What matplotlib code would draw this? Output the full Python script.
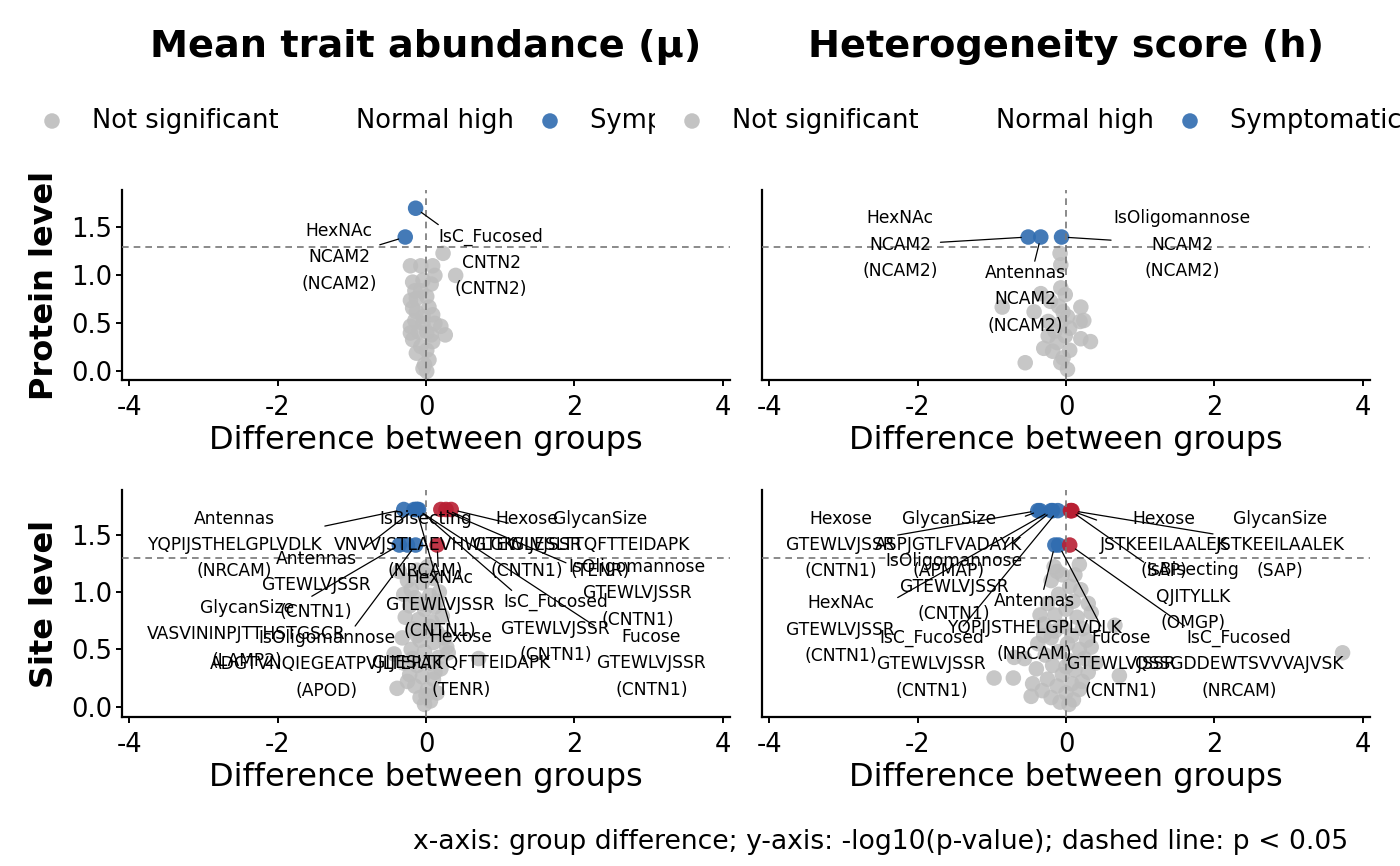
import math
import matplotlib.pyplot as plt

plt.rcParams['font.family'] = ['DejaVu Sans']

GREY = '#bdbdbd'
BLUE = '#2f6cb0'
RED = '#b81f33'

titles = ["Mean trait abundance (μ)", "Heterogeneity score (h)"]
row_names = ["Protein level", "Site level"]
legend_labels = ["Not significant", "Normal high", "Symptomatic high"]
legend_colors = [GREY, 'none', BLUE]
footer = "x-axis: group difference; y-axis: -log10(p-value); dashed line: p < 0.05"
x_ticks = [-4, -2, 0, 2, 4]
y_ticks = [0.0, 0.5, 1.0, 1.5]
p_cut = 0.05
group_colors = {"Not significant": GREY, "Normal high": RED, "Symptomatic high": BLUE}

# ---- protein level, mean trait abundance ----
pm_ns_x = [0.23, 0.40, -0.21, -0.07, 0.09, 0.12, -0.18, -0.04, 0.07, -0.15, -0.13, -0.21,
           -0.18, 0.04, 0.09, -0.04, -0.15, -0.21, 0.20, 0.26, -0.18, 0.07, -0.10, -0.07,
           -0.13, 0.01, 0.04, -0.02, 0.01, -0.04, 0.09, -0.04, 0.12, -0.13, 0.01, -0.07,
           0.01, -0.21]
pm_ns_y = [1.23, 1.00, 1.10, 1.10, 1.10, 1.00, 0.93, 0.95, 0.91, 0.84, 0.76, 0.74,
           0.66, 0.67, 0.59, 0.57, 0.53, 0.47, 0.47, 0.38, 0.33, 0.38, 0.41, 0.26,
           0.19, 0.22, 0.12, 0.07, 0.00, 0.03, 0.31, 0.50, 0.50, 0.62, 0.78, 0.84,
           0.41, 0.40]
pm_sig_x = [-0.28, -0.14]
pm_sig_y = [1.40, 1.70]
pm_group = ["Symptomatic high", "Symptomatic high"]
pm_trait = ["HexNAc", "IsC_Fucosed"]
pm_peptide = ["NCAM2", "CNTN2"]
pm_protein = ["NCAM2", "CNTN2"]
pm_lab_x = [-1.17, 0.88]
pm_lab_y = [1.19, 1.13]

# ---- protein level, heterogeneity ----
ph_ns_x = [-0.08, -0.07, -0.07, -0.01, -0.34, -0.86, -0.21, -0.43, 0.20, 0.24, 0.19, -0.24,
           -0.04, 0.05, -0.24, -0.15, 0.20, 0.33, -0.30, -0.18, 0.05, -0.55, -0.07, 0.02,
           -0.04, -0.12, -0.01, -0.07, 0.02, -0.10]
ph_ns_y = [1.23, 1.11, 0.87, 0.80, 0.81, 0.67, 0.73, 0.62, 0.67, 0.53, 0.52, 0.52,
           0.62, 0.45, 0.37, 0.42, 0.34, 0.31, 0.24, 0.21, 0.22, 0.09, 0.09, 0.02,
           0.14, 0.30, 0.37, 0.50, 0.57, 0.68]
ph_sig_x = [-0.51, -0.34, -0.06]
ph_sig_y = [1.40, 1.40, 1.40]
ph_group = ["Symptomatic high", "Symptomatic high", "Symptomatic high"]
ph_trait = ["HexNAc", "Antennas", "IsOligomannose"]
ph_peptide = ["NCAM2", "NCAM2", "NCAM2"]
ph_protein = ["NCAM2", "NCAM2", "NCAM2"]
ph_lab_x = [-2.24, -0.55, 1.57]
ph_lab_y = [1.32, 0.75, 1.32]

# ---- site level, mean trait abundance ----
sm_ns_x = [-0.36, -0.12, 0.02, -0.25, -0.05, 0.10, -0.30, -0.15, 0.05, 0.18, -0.22, -0.02,
           0.12, -0.28, -0.10, 0.08, 0.22, -0.18, 0.00, 0.15, -0.32, -0.08, 0.10, 0.25,
           -0.43, -0.20, -0.02, 0.17, 0.30, 0.71, -0.30, -0.12, 0.05, 0.20, -0.39, -0.22,
           -0.05, 0.10, -0.15, 0.02, 0.15, -0.08, 0.06, -0.02, 0.00, -0.25, 0.12, -0.18,
           0.28, -0.12, 0.05, -0.05, 0.15, -0.20, 0.00]
sm_ns_y = [1.18, 1.19, 1.22, 1.10, 1.08, 1.12, 0.98, 0.95, 0.97, 1.00, 0.88, 0.85,
           0.87, 0.78, 0.76, 0.74, 0.79, 0.68, 0.66, 0.65, 0.60, 0.58, 0.56, 0.60,
           0.46, 0.50, 0.48, 0.43, 0.47, 0.42, 0.38, 0.36, 0.38, 0.33, 0.16, 0.28,
           0.26, 0.24, 0.18, 0.15, 0.12, 0.08, 0.05, 0.02, 0.10, 0.22, 0.30, 0.42,
           0.52, 0.62, 0.70, 0.90, 0.92, 1.02, 1.15]
sm_sig_x = [-0.30, -0.25, -0.16, 0.27, 0.34, 0.20, -0.10, -0.12, -0.13, 0.15, -0.36, -0.14]
sm_sig_y = [1.72, 1.41, 1.72, 1.72, 1.72, 1.72, 1.72, 1.72, 1.72, 1.41, 1.41, 1.41]
sm_group = ["Symptomatic high", "Symptomatic high", "Symptomatic high", "Normal high",
            "Normal high", "Normal high", "Symptomatic high", "Symptomatic high",
            "Symptomatic high", "Normal high", "Symptomatic high", "Symptomatic high"]
sm_trait = ["Antennas", "IsBisecting", "Antennas", "Hexose", "GlycanSize", "IsOligomannose",
            "IsC_Fucosed", "Fucose", "Hexose", "HexNAc", "GlycanSize", "IsOligomannose"]
sm_peptide = ["YQPIJSTHELGPLVDLK", "VNVVJSTLAEVHWLGK", "GTEWLVJSSR", "GTEWLVJSSR",
              "GIJESLTTQFTTEIDAPK", "GTEWLVJSSR", "GTEWLVJSSR", "GTEWLVJSSR",
              "GIJESLTTQFTTEIDAPK", "GTEWLVJSSR", "VASVININPJTTHSTGSCR",
              "ADGTVNQIEGEATPVJLTEPAK"]
sm_protein = ["NRCAM", "NRCAM", "CNTN1", "CNTN1", "TENR", "CNTN1", "CNTN1", "CNTN1",
              "TENR", "CNTN1", "LAMP2", "APOD"]
sm_lab_x = [-2.58, -0.01, -1.48, 1.36, 2.35, 2.85, 1.75, 3.04, 0.47, 0.19, -2.42, -1.34]
sm_lab_y = [1.41, 1.41, 1.06, 1.41, 1.41, 0.99, 0.68, 0.38, 0.38, 0.89, 0.63, 0.37]

# ---- site level, heterogeneity ----
sh_ns_x = [-0.16, -0.20, 0.18, 0.20, 0.34, 0.66, 0.34, 0.72, 3.73, -0.97, -0.71, -0.47,
           -0.70, -0.56, -0.05, 0.05, -0.10, 0.10, -0.25, 0.00, -0.15, 0.15, -0.30, -0.05,
           0.22, 0.08, -0.20, -0.38, 0.02, 0.18, -0.10, -0.28, 0.25, 0.05, -0.18, -0.40,
           0.12, -0.05, 0.30, -0.25, 0.08, -0.12, 0.18, -0.32, 0.00, -0.20, 0.10, -0.08,
           0.04, -0.30, 0.28, -0.15, 0.12, -0.12, 0.00, -0.45, 0.40, 0.22, -0.35, 0.30]
sh_ns_y = [1.22, 1.10, 1.24, 1.02, 0.82, 0.71, 0.52, 0.27, 0.47, 0.25, 0.25, 0.09,
           0.43, 0.42, 1.15, 1.05, 0.98, 0.92, 0.90, 0.85, 0.80, 0.78, 0.72, 0.70,
           0.68, 0.62, 0.60, 0.55, 0.55, 0.50, 0.48, 0.45, 0.42, 0.40, 0.36, 0.33,
           0.32, 0.28, 0.30, 0.24, 0.20, 0.18, 0.15, 0.14, 0.12, 0.08, 0.06, 0.04,
           0.02, 0.62, 0.58, 0.66, 1.15, 1.18, 0.35, 0.20, 0.38, 0.22, 0.80, 0.90]
sh_sig_x = [-0.38, -0.35, -0.18, -0.20, -0.11, -0.15, 0.07, 0.08, 0.06, -0.10, 0.05]
sh_sig_y = [1.71, 1.71, 1.71, 1.71, 1.71, 1.41, 1.71, 1.71, 1.71, 1.41, 1.41]
sh_group = ["Symptomatic high", "Symptomatic high", "Symptomatic high", "Symptomatic high",
            "Symptomatic high", "Symptomatic high", "Normal high", "Normal high",
            "Normal high", "Symptomatic high", "Normal high"]
sh_trait = ["Hexose", "GlycanSize", "IsOligomannose", "HexNAc", "IsC_Fucosed", "Antennas",
            "Hexose", "GlycanSize", "IsBisecting", "Fucose", "IsC_Fucosed"]
sh_peptide = ["GTEWLVJSSR", "ASPJGTLFVADAYK", "GTEWLVJSSR", "GTEWLVJSSR", "GTEWLVJSSR",
              "YQPIJSTHELGPLVDLK", "JSTKEEILAALEK", "JSTKEEILAALEK", "QJITYLLK",
              "GTEWLVJSSR", "QSSGDDEWTSVVVAJVSK"]
sh_protein = ["CNTN1", "APMAP", "CNTN1", "CNTN1", "CNTN1", "NRCAM", "SAP", "SAP", "OMGP",
              "CNTN1", "NRCAM"]
sh_lab_x = [-3.04, -1.58, -1.51, -3.04, -1.81, -0.43, 1.32, 2.89, 1.71, 0.74, 2.33]
sh_lab_y = [1.41, 1.41, 1.04, 0.67, 0.37, 0.69, 1.41, 1.41, 0.96, 0.37, 0.37]


def draw_panel(ax, ns_x, ns_y, sig_x, sig_y, group, trait, peptide, protein, lab_x, lab_y):
    ax.scatter(ns_x, ns_y, s=125, color=GREY, alpha=0.85, edgecolors='none', zorder=2)
    ax.scatter(sig_x, sig_y, s=125, color=[group_colors[g] for g in group], alpha=0.9,
               edgecolors='none', zorder=3)
    ax.axhline(-math.log10(p_cut), color='#777777', lw=1.2, ls=(0, (4, 3)), zorder=4)
    ax.axvline(0, color='#777777', lw=1.2, ls=(0, (4, 3)), zorder=4)
    for i in range(len(trait)):
        txt = f"{trait[i]}\n{peptide[i]}\n({protein[i]})"
        # no segment when the label already sits on its point
        near = abs(lab_x[i] - sig_x[i]) < 0.6 and abs(lab_y[i] - sig_y[i]) < 0.15
        arrow = None if near else dict(arrowstyle='-', color='black', lw=0.9,
                                       shrinkA=0, shrinkB=5)
        ax.annotate(txt, xy=(sig_x[i], sig_y[i]), xytext=(lab_x[i], lab_y[i]),
                    ha='center', va='center', fontsize=12.3, linespacing=1.6,
                    arrowprops=arrow, zorder=5)
    ax.set_xlim(-4.1, 4.1)
    ax.set_ylim(-0.09, 1.89)
    ax.set_xticks(x_ticks)
    ax.set_xticklabels([str(t) for t in x_ticks])
    ax.set_yticks(y_ticks)
    ax.set_yticklabels([f"{t:.1f}" for t in y_ticks])
    for side in ['top', 'right']:
        ax.spines[side].set_visible(False)
    for side in ['left', 'bottom']:
        ax.spines[side].set_linewidth(1.6)
    ax.tick_params(direction='out', length=4, width=1.4, labelsize=18.5, pad=3)
    ax.tick_params(axis='x', pad=7)
    ax.set_xlabel("Difference between groups", fontsize=23, labelpad=3)


fig = plt.figure(figsize=(14, 8.66), dpi=100)
W, H = 1400, 866


def box(x0, y0, x1, y1):
    return [x0 / W, 1 - y1 / H, (x1 - x0) / W, (y1 - y0) / H]


ax_pm = fig.add_axes(box(122, 190, 730, 380))
ax_ph = fig.add_axes(box(762, 190, 1370, 380))
ax_sm = fig.add_axes(box(122, 490, 730, 717))
ax_sh = fig.add_axes(box(762, 490, 1370, 717))

draw_panel(ax_pm, pm_ns_x, pm_ns_y, pm_sig_x, pm_sig_y, pm_group, pm_trait, pm_peptide,
           pm_protein, pm_lab_x, pm_lab_y)
draw_panel(ax_ph, ph_ns_x, ph_ns_y, ph_sig_x, ph_sig_y, ph_group, ph_trait, ph_peptide,
           ph_protein, ph_lab_x, ph_lab_y)
draw_panel(ax_sm, sm_ns_x, sm_ns_y, sm_sig_x, sm_sig_y, sm_group, sm_trait, sm_peptide,
           sm_protein, sm_lab_x, sm_lab_y)
draw_panel(ax_sh, sh_ns_x, sh_ns_y, sh_sig_x, sh_sig_y, sh_group, sh_trait, sh_peptide,
           sh_protein, sh_lab_x, sh_lab_y)

for ax in [ax_ph, ax_sh]:
    ax.tick_params(axis='y', left=False, labelleft=False)

# titles and row labels
for ax, t in zip([ax_pm, ax_ph], titles):
    c = ax.get_position()
    fig.text(c.x0 + c.width / 2, 1 - 47 / H, t, ha='center', va='center',
             fontsize=27.5, fontweight='bold')
for ax, r in zip([ax_pm, ax_sm], row_names):
    c = ax.get_position()
    fig.text(45 / W, c.y0 + c.height / 2, r, rotation=90, ha='center', va='center',
             fontsize=23, fontweight='bold')

# legends (clipped strips, like the reference)
for x0, x1, start in [(0, 655, 52), (660, 1400, 692)]:
    lax = fig.add_axes(box(x0, 101, x1, 141))
    lax.set_xlim(x0, x1)
    lax.set_ylim(0, 1)
    lax.axis('off')
    for k, (lab, col) in enumerate(zip(legend_labels, legend_colors)):
        mx = start + [0, 264, 498][k]
        if col != 'none':
            lax.scatter([mx], [0.5], s=125, color=col, alpha=0.9, edgecolors='none',
                        clip_on=True)
        lax.text(mx + 40, 0.5, lab, fontsize=18.5, ha='left', va='center', clip_on=True)

fig.text(1348 / W, 1 - 842 / H, footer, ha='right', va='center', fontsize=19.2)

fig.savefig("out.png", dpi=100)
